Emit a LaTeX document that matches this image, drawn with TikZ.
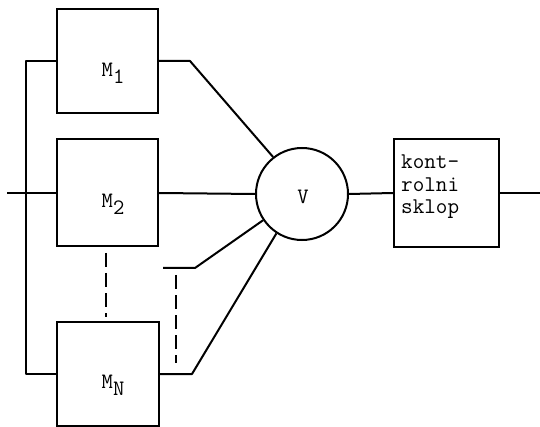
\documentclass[tikz,border=0pt]{standalone}
\begin{document}
\begin{tikzpicture}[x=1pt,y=-1pt,
  wire/.style={line width=2pt, line join=round},
  blk/.style={draw, line width=2pt, rectangle, inner sep=0pt},
  dash wire/.style={line width=2pt, dash pattern=on 14pt off 6pt},
  lbl/.style={font=\ttfamily\fontsize{22}{24}\selectfont, inner sep=0pt}]
\useasboundingbox (0,0) rectangle (540,427);
% blocks
\node[blk, minimum width=101pt, minimum height=104pt] (M1) at (107.5,61) {};
\node[blk, minimum width=101pt, minimum height=107pt] (M2) at (107.5,193) {};
\node[blk, minimum width=102pt, minimum height=104pt] (MN) at (108,374) {};
\node[lbl] (tM1) at (113,73) {M\raisebox{-7pt}{1}};
\node[lbl] (tM2) at (113,204) {M\raisebox{-7pt}{2}};
\node[lbl] (tMN) at (113,385) {M\raisebox{-7pt}{N}};
\node[draw, circle, line width=2pt, minimum size=92pt, inner sep=0pt] (V) at (302,194) {};
\node[lbl] (tV) at (303,197) {V};
\node[blk, minimum width=105pt, minimum height=108pt] (K) at (446.5,193) {};
\node[lbl, anchor=west, align=left, font=\ttfamily\fontsize{22.5}{22.5}\selectfont] (tK) at (401,187) {kont-\\rolni\\sklop};
% coordinates
\coordinate (in) at (7,193);
\coordinate (out) at (540,193);
\coordinate (b1) at (26,61);
\coordinate (k1) at (190,61);
\coordinate (s3) at (163,268);
\coordinate (k3) at (195,268);
\coordinate (kN) at (192,374);
\coordinate (d1a) at (106,253);
\coordinate (d1b) at (106,317);
\coordinate (d2a) at (176,275);
\coordinate (d2b) at (176,363);
% connectors
\draw[wire] (in) -- (M2.west);
\draw[wire] (M1.west) -- (b1) |- (MN.west);
\draw[wire] (M1.east) -- (k1) -- (V.128);
\draw[wire] (M2.east) -- (V.west);
\draw[wire] (s3) -- (k3) -- (V.214);
\draw[wire] (MN.east) -- (kN) -- (V.237);
\draw[wire] (V.east) -- (K.west);
\draw[wire] (K.east) -- (out);
\draw[dash wire] (d1a) -- (d1b);
\draw[dash wire] (d2a) -- (d2b);
\end{tikzpicture}
\end{document}
